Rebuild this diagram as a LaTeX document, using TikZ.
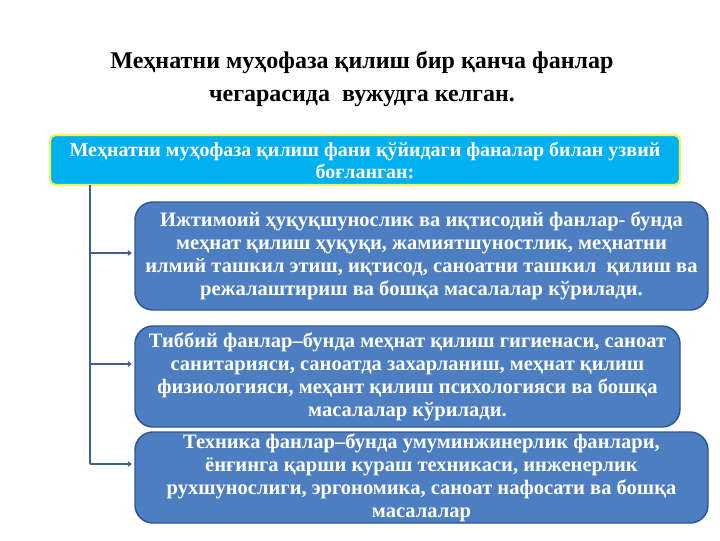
\documentclass[tikz,border=0pt]{standalone}
\usepackage{fontspec}
\setmainfont{Liberation Serif}
\usetikzlibrary{arrows.meta}
\definecolor{cyanbox}{HTML}{00B0F0}
\definecolor{glow}{HTML}{F2F25A}
\definecolor{steelbox}{HTML}{4D7EC2}
\definecolor{steeledge}{HTML}{2E5597}
\definecolor{linkcol}{HTML}{3F5F95}
\tikzset{
  titletext/.style={font=\bfseries\fontsize{18}{24.75}\selectfont, align=center, text=black},
  topbox/.style={draw=glow, line width=1.8pt, fill=cyanbox, rounded corners=4pt,
     font=\bfseries\fontsize{15}{16.5}\selectfont, text=white, align=center, inner sep=0pt},
  fieldbox/.style={draw=steeledge, line width=1.1pt, fill=steelbox, rounded corners=13.5pt,
     font=\bfseries\fontsize{15.4}{17.3}\selectfont, text=white, align=center, inner sep=0pt},
  link/.style={draw=linkcol, line width=0.8pt},
  linkarrow/.style={link, -{To[length=3pt,width=4pt]}}
}
\begin{document}
\begin{tikzpicture}[x=0.75pt,y=-0.75pt]
\useasboundingbox (0,0) rectangle (720,540);
\fill[white] (0,0) rectangle (720,540);
\node[titletext] (title) at (362,79) {Меҳнатни муҳофаза қилиш бир қанча фанлар\\чегарасида\ \ вужудга келган.};
\node[topbox, minimum width=472.5pt, minimum height=37.5pt] (top) at (365,160)
  {Меҳнатни муҳофаза қилиш фани қўйидаги фаналар билан узвий\\боғланган:};
\node[fieldbox, minimum width=429.75pt, minimum height=81pt] (b1) at (421.5,256)
  {Ижтимоий ҳуқуқшунослик ва иқтисодий фанлар- бунда\\меҳнат қилиш ҳуқуқи, жамиятшуностлик, меҳнатни\\илмий ташкил этиш, иқтисод, саноатни ташкил\ \ қилиш ва\\режалаштириш ва бошқа масалалар кўрилади.};
\node[fieldbox, minimum width=408.75pt, minimum height=75.75pt] (b2) at (407.5,376.5)
  {Тиббий фанлар–бунда меҳнат қилиш гигиенаси, саноат\\санитарияси, саноатда захарланиш, меҳнат қилиш\\физиологияси, меҳант қилиш психологияси ва бошқа\\масалалар кўрилади.};
\node[fieldbox, minimum width=429.75pt, minimum height=68.25pt] (b3) at (421.5,477.5)
  {Техника фанлар–бунда умуминжинерлик фанлари,\\ёнғинга қарши кураш техникаси, инженерлик\\рухшунослиги, эргономика, саноат нафосати ва бошқа\\масалалар};
\coordinate (v0) at (90,185);
\coordinate (a1) at (90,253);
\coordinate (a2) at (90,364);
\coordinate (a3) at (90,464);
\draw[link] (v0) -- (a3);
\draw[linkarrow] (a1) -- ([xshift=-2pt]a1 -| b1.west);
\draw[linkarrow] (a2) -- ([xshift=-2pt]a2 -| b2.west);
\draw[linkarrow] (a3) -- ([xshift=-2pt]a3 -| b3.west);
\end{tikzpicture}
\end{document}
